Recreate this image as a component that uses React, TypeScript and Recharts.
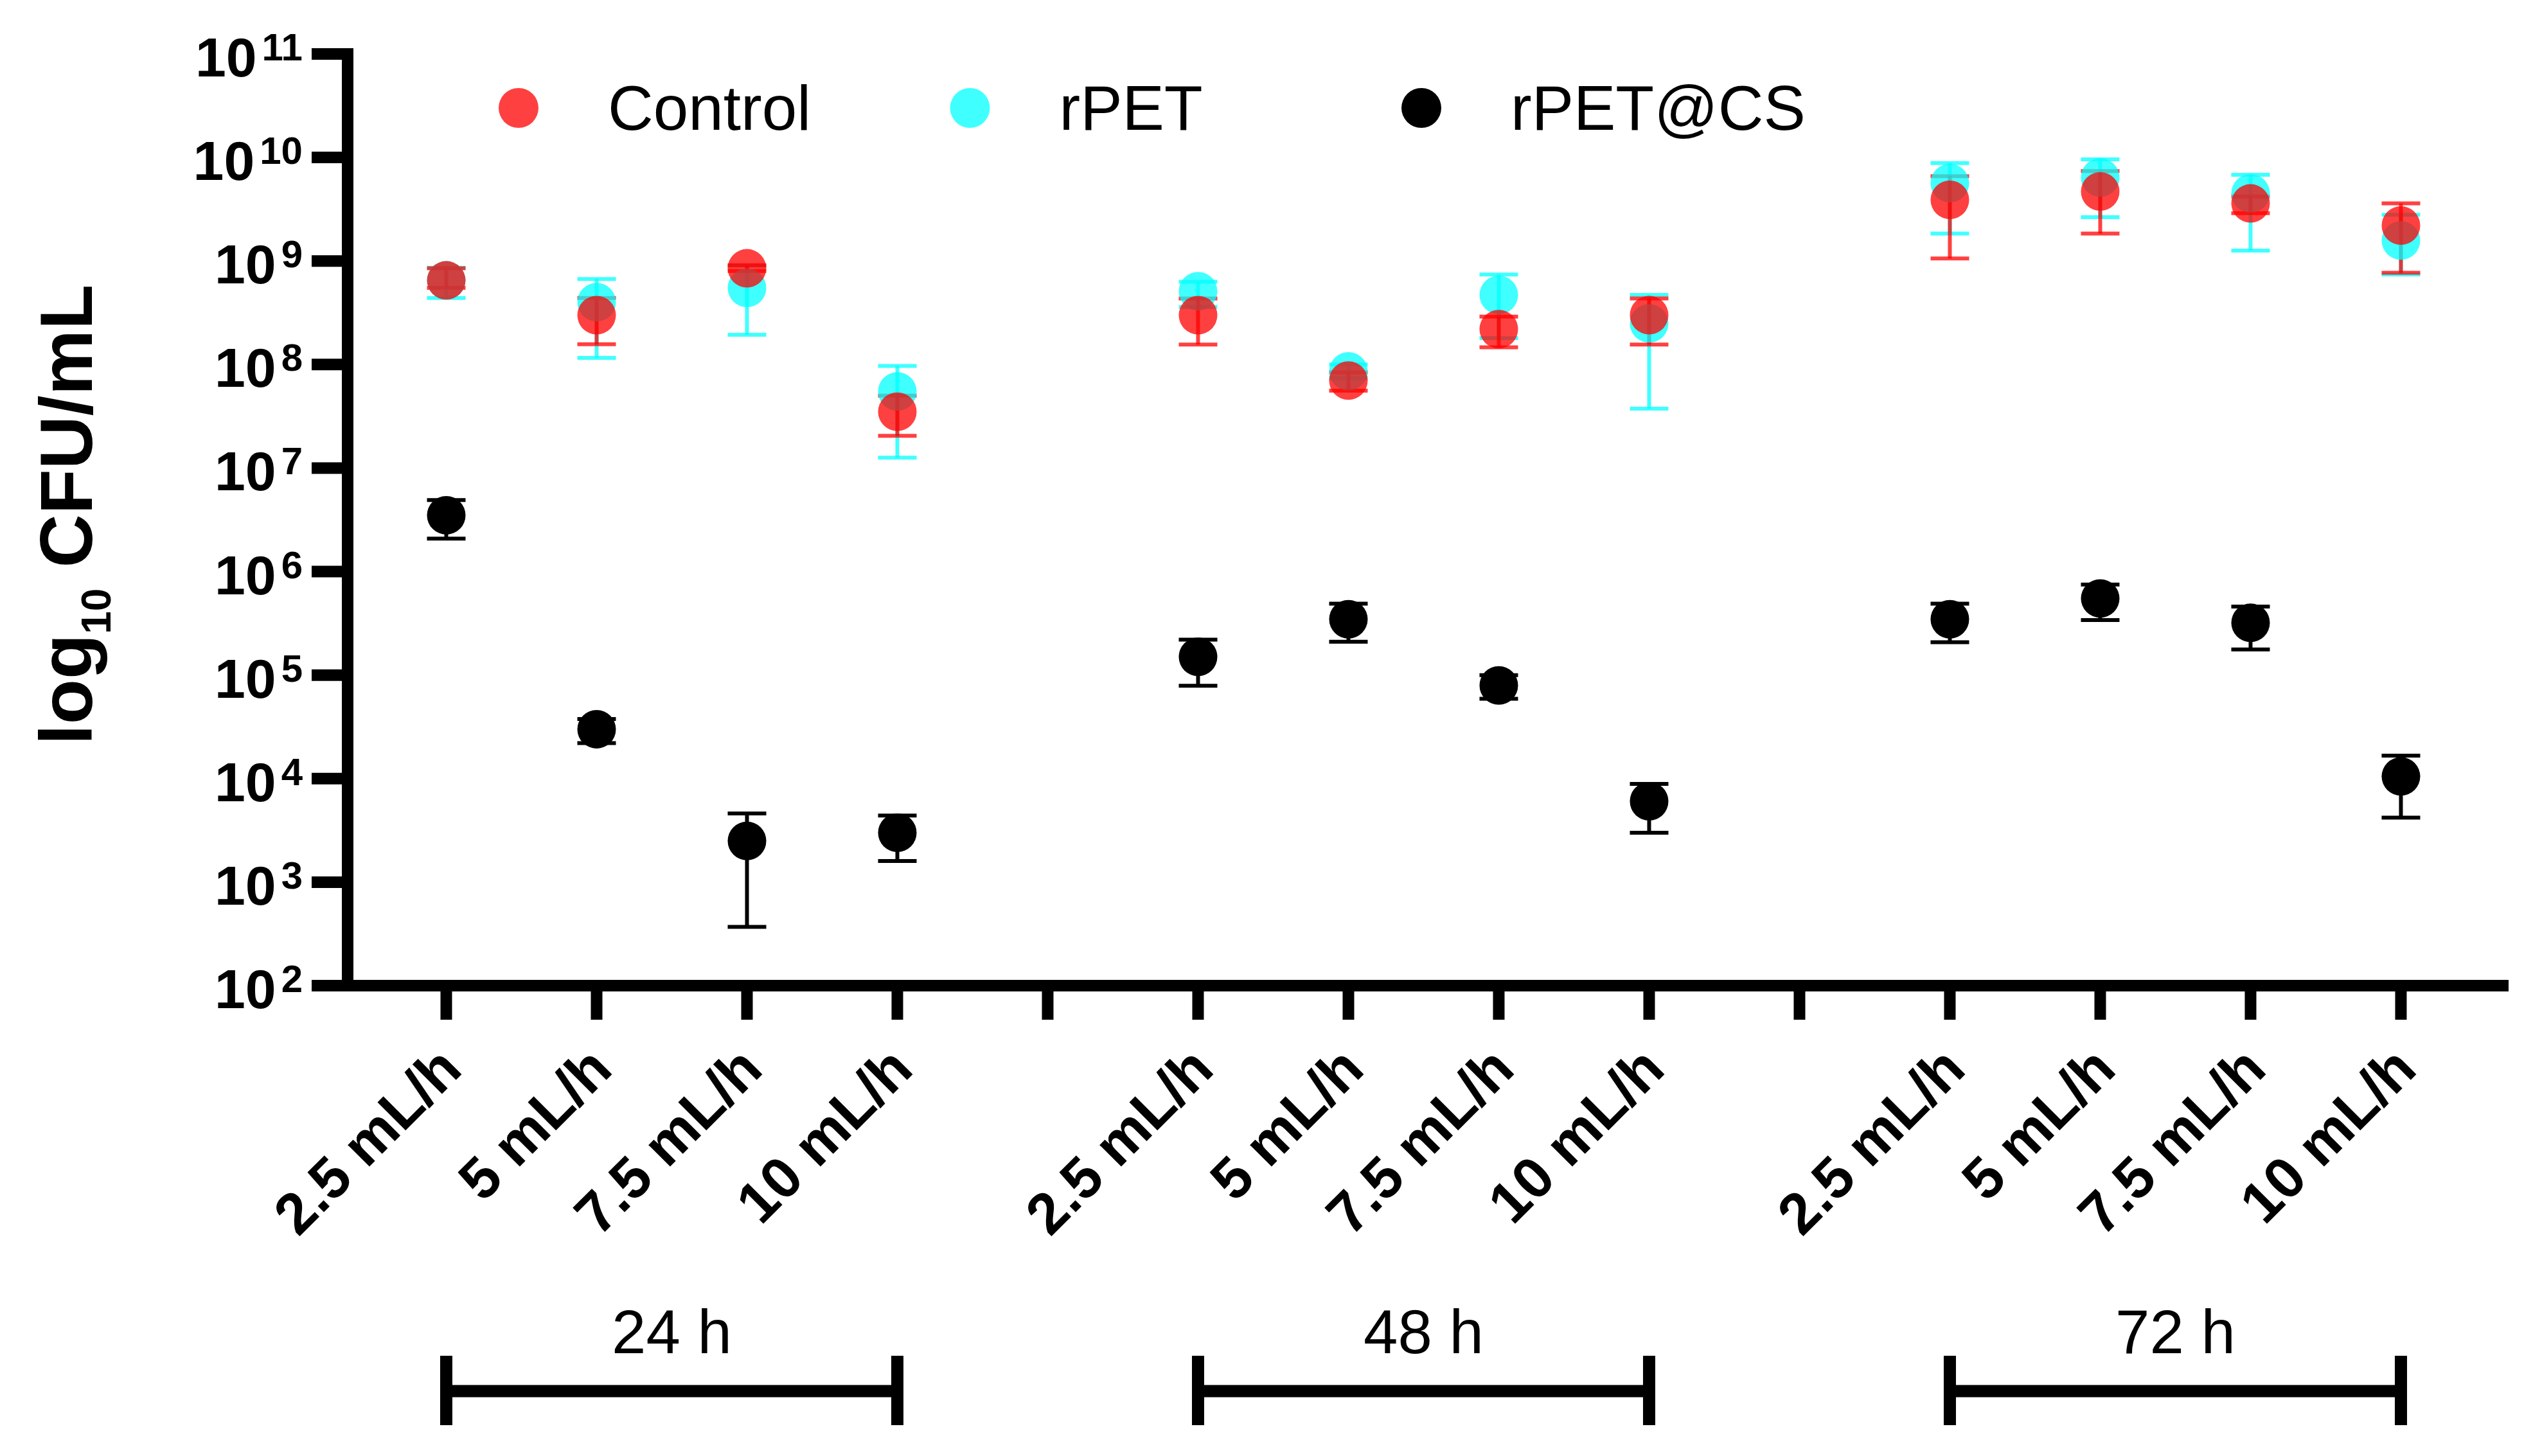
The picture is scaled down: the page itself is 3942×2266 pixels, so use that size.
import { ScatterChart, Scatter, XAxis, YAxis, ErrorBar, Legend } from "recharts";

const rates = ["2.5 mL/h", "5 mL/h", "7.5 mL/h", "10 mL/h"];
const times = ["24 h", "48 h", "72 h"];
const positions = [1, 2, 3, 4, 6, 7, 8, 9, 11, 12, 13, 14];
const tickPositions = [1, 2, 3, 4, 5, 6, 7, 8, 9, 10, 11, 12, 13, 14];
const yTicks = [1e2, 1e3, 1e4, 1e5, 1e6, 1e7, 1e8, 1e9, 1e10, 1e11];

const controlMean = [6.5e8, 3.0e8, 8.5e8, 3.5e7, 3.0e8, 7.0e7, 2.2e8, 3.0e8, 3.9e9, 4.7e9, 3.6e9, 2.2e9];
const controlLow = [5.5e8, 1.57e8, 8.0e8, 2.05e7, 1.56e8, 5.6e7, 1.47e8, 1.56e8, 1.06e9, 1.84e9, 2.9e9, 7.7e8];
const controlHigh = [8.5e8, 4.4e8, 9.1e8, 5.0e7, 4.35e8, 8.4e7, 2.9e8, 4.35e8, 6.6e9, 7.4e9, 4.2e9, 3.6e9];

const rpetMean = [6.5e8, 4.0e8, 5.5e8, 5.5e7, 5.1e8, 8.6e7, 4.7e8, 2.5e8, 5.65e9, 6.4e9, 4.5e9, 1.58e9];
const rpetLow = [4.4e8, 1.16e8, 1.94e8, 1.26e7, 3.6e8, 7.4e7, 1.8e8, 3.75e7, 1.84e9, 2.65e9, 1.26e9, 7.4e8];
const rpetHigh = [8.6e8, 6.7e8, 9.0e8, 9.7e7, 6.3e8, 1.0e8, 7.4e8, 4.7e8, 8.85e9, 9.6e9, 6.8e9, 2.8e9];

const csMean = [3.5e6, 3.0e4, 2.5e3, 3.0e3, 1.5e5, 3.46e5, 7.95e4, 6.05e3, 3.46e5, 5.5e5, 3.2e5, 1.05e4];
const csLow = [2.08e6, 2.2e4, 3.7e2, 1.6e3, 7.9e4, 2.1e5, 5.9e4, 3.0e3, 2.08e5, 3.4e5, 1.77e5, 4.2e3];
const csHigh = [4.9e6, 3.77e4, 4.6e3, 4.4e3, 2.2e5, 4.9e5, 1.0e5, 8.9e3, 4.9e5, 7.5e5, 4.6e5, 1.67e4];

const FONT = "'Liberation Sans', Arial, sans-serif";
const W = 3942;
const H = 2266;
const TOP = 84;
const LEFT = 541;
const RIGHT = 38;
const X_AXIS_H = H - 1534;
const X_DOMAIN: [number, number] = [0.344, 14.716];
const STEP = (W - LEFT - RIGHT) / (X_DOMAIN[1] - X_DOMAIN[0]);

const series = [
  { name: "Control", color: "rgba(255,0,0,0.75)" },
  { name: "rPET", color: "rgba(0,255,255,0.75)" },
  { name: "rPET@CS", color: "#000000" },
];

function rows(mean: number[], low: number[], high: number[]) {
  return positions.map((x, i) => ({
    x,
    y: mean[i],
    err: [mean[i] - low[i], high[i] - mean[i]],
  }));
}

const controlData = rows(controlMean, controlLow, controlHigh);
const rpetData = rows(rpetMean, rpetLow, rpetHigh);
const csData = rows(csMean, csLow, csHigh);

const dot = (color: string) => (p: any) => <circle cx={p.cx} cy={p.cy} r={30} fill={color} />;

function YTick({ x, y, payload }: any) {
  const exp = Math.round(Math.log10(payload.value));
  return (
    <text x={x} y={y + 35} textAnchor="end" fontFamily={FONT} fontWeight={700} fill="#000">
      <tspan fontSize={86}>10</tspan>
      <tspan fontSize={60} dx={8} dy={-25}>
        {exp}
      </tspan>
    </text>
  );
}

function XTick({ x, y, payload }: any) {
  const idx = positions.indexOf(payload.value);
  const ax = x + 28;
  const ay = y + 81;
  const startsGroup = idx >= 0 && idx % 4 === 0;
  const x2 = x + 3 * STEP;
  return (
    <g>
      {idx >= 0 && (
        <text
          x={ax}
          y={ay}
          transform={`rotate(-45 ${ax} ${ay})`}
          textAnchor="end"
          fontFamily={FONT}
          fontWeight={700}
          fontSize={90}
          fill="#000"
        >
          {rates[idx % 4]}
        </text>
      )}
      {startsGroup && (
        <g>
          <text x={(x + x2) / 2} y={y + 519} textAnchor="middle" fontFamily={FONT} fontSize={96} fill="#000">
            {times[idx / 4]}
          </text>
          <line x1={x} y1={y + 578} x2={x2} y2={y + 578} stroke="#000" strokeWidth={19} />
          <line x1={x} y1={y + 523} x2={x} y2={y + 631} stroke="#000" strokeWidth={19} />
          <line x1={x2} y1={y + 523} x2={x2} y2={y + 631} stroke="#000" strokeWidth={19} />
        </g>
      )}
    </g>
  );
}

function YTitle() {
  const cx = 143;
  const cy = 801;
  return (
    <text
      x={cx}
      y={cy}
      transform={`rotate(-90 ${cx} ${cy})`}
      textAnchor="middle"
      fontFamily={FONT}
      fontWeight={700}
      fontSize={115}
      fill="#000"
    >
      log
      <tspan fontSize={64} dy={29}>
        10
      </tspan>
      <tspan dy={-29}> CFU/mL</tspan>
    </text>
  );
}

function LegendBox() {
  return (
    <svg width={W} height={260}>
      {series.map((s, k) => {
        const cx = 807 + k * 702.5;
        return (
          <g key={s.name}>
            <circle cx={cx} cy={168} r={31} fill={s.color} />
            <text x={cx + 139} y={202} fontFamily={FONT} fontSize={98} fill="#000">
              {s.name}
            </text>
          </g>
        );
      })}
    </svg>
  );
}

export default function App() {
  return (
    <div style={{ position: "absolute", left: 0, top: 0, width: W, height: H, background: "#fff" }}>
      <ScatterChart width={W} height={H} margin={{ top: TOP, right: RIGHT, bottom: 0, left: 0 }}>
        <XAxis
          type="number"
          dataKey="x"
          domain={X_DOMAIN}
          allowDataOverflow
          ticks={tickPositions}
          interval={0}
          height={X_AXIS_H}
          axisLine={{ stroke: "#000", strokeWidth: 18 }}
          tickLine={{ stroke: "#000", strokeWidth: 18 }}
          tickSize={53}
          tickMargin={0}
          tick={<XTick />}
        />
        <YAxis
          type="number"
          dataKey="y"
          scale="log"
          domain={[1e2, 1e11]}
          allowDataOverflow
          ticks={yTicks}
          interval={0}
          width={LEFT}
          axisLine={{ stroke: "#000", strokeWidth: 18, strokeLinecap: "square" }}
          tickLine={{ stroke: "#000", strokeWidth: 18 }}
          tickSize={56}
          tickMargin={14}
          tick={<YTick />}
          label={<YTitle />}
        />
        <Legend
          verticalAlign="middle"
          layout="horizontal"
          wrapperStyle={{ top: 0, left: 0, width: W, height: 260 }}
          content={() => <LegendBox />}
        />
        <Scatter name="rPET" data={rpetData} fill={series[1].color} shape={dot(series[1].color)} isAnimationActive={false}>
          <ErrorBar dataKey="err" direction="y" width={30} stroke={series[1].color} strokeWidth={6} />
        </Scatter>
        <Scatter name="Control" data={controlData} fill={series[0].color} shape={dot(series[0].color)} isAnimationActive={false}>
          <ErrorBar dataKey="err" direction="y" width={30} stroke={series[0].color} strokeWidth={6} />
        </Scatter>
        <Scatter name="rPET@CS" data={csData} fill={series[2].color} shape={dot(series[2].color)} isAnimationActive={false}>
          <ErrorBar dataKey="err" direction="y" width={30} stroke={series[2].color} strokeWidth={6} />
        </Scatter>
      </ScatterChart>
    </div>
  );
}
